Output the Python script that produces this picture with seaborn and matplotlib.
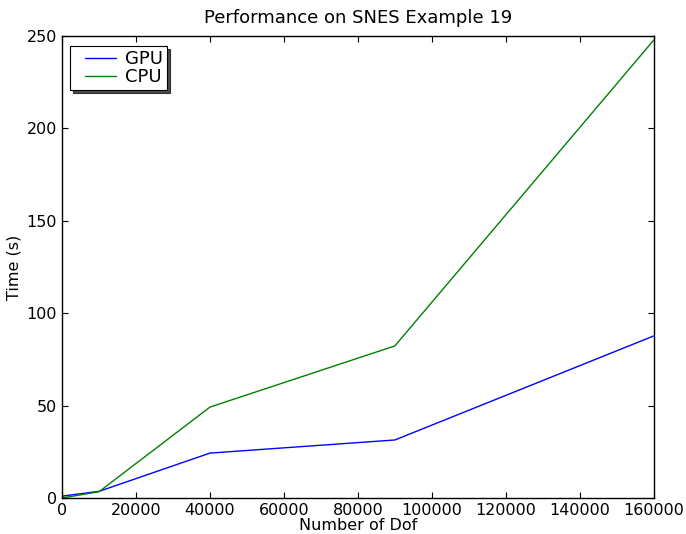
import numpy as np
import pandas as pd
import matplotlib
matplotlib.use("Agg")
import matplotlib.pyplot as plt
import seaborn as sns
from matplotlib.legend_handler import HandlerLine2D
from matplotlib.lines import Line2D

# --- DATA
dof = [0, 10000, 40000, 90000, 160000]
gpu_time = [1.0, 3.6, 24.3, 31.4, 87.7]
cpu_time = [0.0, 3.4, 49.2, 82.3, 247.8]

df = pd.DataFrame({
    "dof": dof * 2,
    "time": gpu_time + cpu_time,
    "device": ["GPU"] * len(dof) + ["CPU"] * len(dof),
})

# --- PLOT
sns.set_style("white")
plt.rcParams["font.family"] = ["DejaVu Sans"]
plt.rcParams["text.color"] = "black"
plt.rcParams["axes.labelcolor"] = "black"
plt.rcParams["xtick.color"] = "black"
plt.rcParams["ytick.color"] = "black"
plt.rcParams["xtick.direction"] = "in"
plt.rcParams["ytick.direction"] = "in"

fig = plt.figure(figsize=(6.86, 5.34), dpi=100)
ax = fig.add_axes([0.0904, 0.0674, 0.8626, 0.8652])

sns.lineplot(data=df, x="dof", y="time", hue="device",
             palette={"GPU": "#0000ff", "CPU": "#008000"},
             linewidth=1.0, ax=ax)

ax.set_xlim(0, 160000)
ax.set_ylim(0, 250)
ax.set_xticks(np.arange(0, 160001, 20000))
ax.set_yticks(np.arange(0, 251, 50))
ax.tick_params(axis="both", which="both", direction="in", length=4,
               width=0.8, labelsize=11.5, top=True, right=True, bottom=True, left=True,
               color="black", labelcolor="black")
for s in ax.spines.values():
    s.set_color("black")
    s.set_linewidth(1.0)

ax.set_title("Performance on SNES Example 19", fontsize=13, pad=9, color="black")
ax.set_xlabel("Number of Dof", fontsize=11.5, labelpad=0)
ax.set_ylabel("Time (s)", fontsize=11.5, labelpad=4)

leg = ax.legend(loc="upper left", bbox_to_anchor=(0.0135, 0.978), borderaxespad=0,
                fontsize=13, fancybox=False,
                shadow={"color": "black", "alpha": 0.7},
                frameon=True, handlelength=2.3, handletextpad=0.55,
                borderpad=0.22, labelspacing=0.0,
                handler_map={Line2D: HandlerLine2D(xpad=0.6)})
leg.get_frame().set_edgecolor("black")
leg.get_frame().set_linewidth(0.8)
leg.get_frame().set_alpha(1.0)

fig.savefig("out.png", dpi=100)
